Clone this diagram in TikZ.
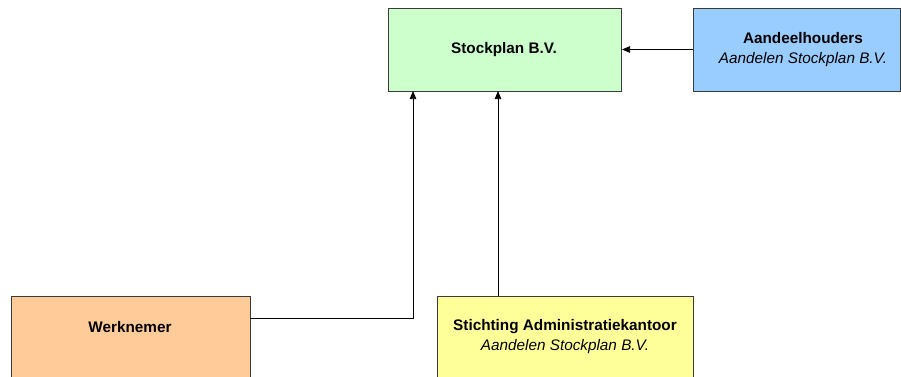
\documentclass[tikz,border=0pt]{standalone}
\usepackage{fontspec}
\setmainfont{Liberation Sans}
\usetikzlibrary{arrows.meta,calc}
\definecolor{cgreen}{HTML}{CCFFCC}
\definecolor{cblue}{HTML}{99CCFF}
\definecolor{corange}{HTML}{FFCC99}
\definecolor{cyellow}{HTML}{FFFF99}
\definecolor{cborder}{HTML}{3A3A3A}
\tikzset{
  box/.style={draw=cborder,line width=0.9pt,rectangle,anchor=north west,inner sep=0pt,outer sep=0pt},
  txt/.style={font=\fontsize{15.3}{20}\selectfont,inner sep=0pt,align=center},
  arr/.style={draw=black,line width=0.7pt,-{Triangle[length=8pt,width=6.5pt]}},
}
\begin{document}
\begin{tikzpicture}[x=1pt,y=-1pt]
\useasboundingbox[fill=white] (0,0) rectangle (901,376);
\clip (0,0) rectangle (901,376);
\node[box,fill=cgreen,minimum width=233pt,minimum height=83pt] (stock) at (388,8) {};
\node[box,fill=cblue,minimum width=207pt,minimum height=83pt] (aand) at (693,8) {};
\node[box,fill=corange,minimum width=239pt,minimum height=90pt] (werk) at (11,296) {};
\node[box,fill=cyellow,minimum width=256pt,minimum height=90pt] (stich) at (437,296) {};
\node[txt] (stockt) at (504,50) {\bfseries Stockplan B.V.};
\node[txt] (aandt) at (803,50) {\bfseries Aandeelhouders\\\itshape Aandelen Stockplan B.V.};
\node[txt] (werkt) at (130,327) {\bfseries Werknemer};
\node[txt] (sticht) at (565,337) {\bfseries Stichting Administratiekantoor\\\itshape Aandelen Stockplan B.V.};
\draw[arr] (aand.west) -- ($(stock.east)+(1,0)$);
\draw[arr] ($(werk.north east)+(0,22)$) -| ($(stock.south west)+(25,0)$);
\draw[arr] ($(stich.north west)+(61,0)$) -- ($(stock.south west)+(110,0)$);
\end{tikzpicture}
\end{document}
